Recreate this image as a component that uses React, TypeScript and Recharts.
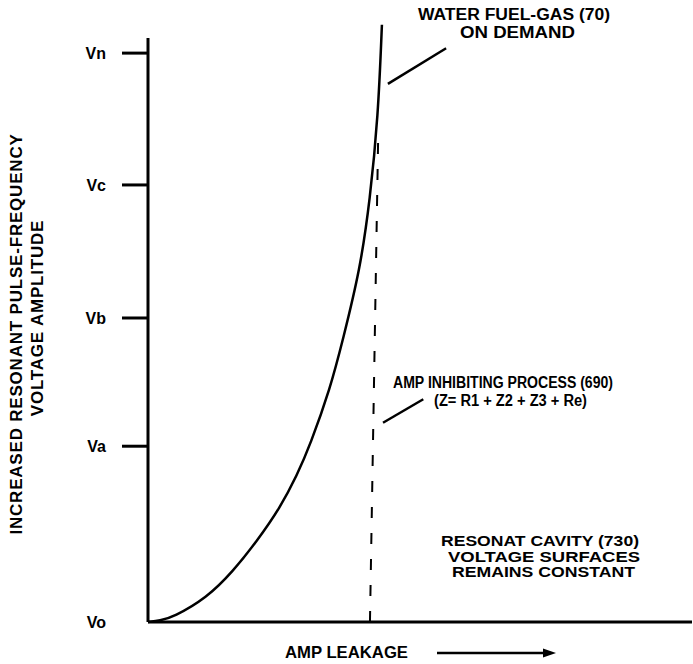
import { ComposedChart, Line, XAxis, YAxis, ReferenceLine } from 'recharts';

// curve (x = amp leakage, y = voltage amplitude, both 0..100)
const CURVE_X = [0, 2.2, 4.6, 10.8, 15.6, 20.0, 24.3, 27.4, 29.8, 33.5, 35.8, 39.0, 40.8, 42.3, 43.0];
const CURVE_Y = [0, 0.25, 0.8, 4.0, 8.4, 13.4, 19.0, 24.4, 29.4, 38.8, 46.8, 58.6, 70.1, 83.9, 99.2];

const Y_TICKS = [0, 29.2, 50.5, 72.6, 94.5];
const Y_TICK_LABELS = ['Vo', 'Va', 'Vb', 'Vc', 'Vn'];

// dashed limit line and leader lines (data coords)
const DASH_LINE = [{ x: 40.8, y: 0 }, { x: 42.3, y: 80 }];
const WATER_LEADER = [{ x: 44.1, y: 89.4 }, { x: 54.8, y: 95.3 }];
const AMP_LEADER = [{ x: 43.2, y: 33.1 }, { x: 50.6, y: 37.0 }];
const Y_AXIS_TOP = 97;

const data = CURVE_X.map((x, i) => ({ x, y: CURVE_Y[i] }));

const FONT = '"Liberation Sans", Arial, sans-serif';

const VTick = (props: any) => {
  const { x, y, payload } = props;
  const idx = Y_TICKS.indexOf(payload.value);
  const label = Y_TICK_LABELS[idx] ?? '';
  return (
    <g>
      {payload.value !== 0 && (
        <line x1={x + 18} x2={x + 44} y1={y} y2={y} stroke="#000" strokeWidth={3} />
      )}
      <text x={x + 2} y={y} dy="0.36em" textAnchor="end" fontFamily={FONT} fontWeight="bold" fontSize={16} fill="#000">
        {label}
      </text>
    </g>
  );
};

// annotation text, left edge x, stretched to the width it has in the figure
const T = ({ x, y, w, children, size = 16 }: any) => (
  <text
    x={x}
    y={y}
    textLength={w}
    lengthAdjust="spacingAndGlyphs"
    fontFamily={FONT}
    fontWeight="bold"
    fontSize={size}
    fill="#000"
  >
    {children}
  </text>
);

export default function App() {
  return (
    <div style={{ position: 'absolute', left: 0, top: 0, width: 693, height: 664, background: '#fff' }}>
      <ComposedChart width={693} height={664} data={data} margin={{ top: 20, right: 1, left: 0, bottom: 0 }}>
        <XAxis
          dataKey="x"
          type="number"
          domain={[0, 100]}
          tick={false}
          tickLine={false}
          height={42}
          axisLine={{ stroke: '#000', strokeWidth: 3 }}
        />
        <YAxis
          type="number"
          domain={[0, 100]}
          ticks={Y_TICKS}
          width={148}
          tickSize={26}
          tickMargin={18}
          tickLine={false}
          axisLine={false}
          tick={<VTick />}
          interval={0}
        />
        <ReferenceLine
          segment={[{ x: 0, y: 0 }, { x: 0, y: Y_AXIS_TOP }]}
          stroke="#000"
          strokeWidth={3}
          ifOverflow="visible"
        />
        <ReferenceLine segment={DASH_LINE} stroke="#000" strokeWidth={2} strokeDasharray="11 15" ifOverflow="visible" />
        <ReferenceLine segment={WATER_LEADER} stroke="#000" strokeWidth={2.5} ifOverflow="visible" />
        <ReferenceLine segment={AMP_LEADER} stroke="#000" strokeWidth={2.5} ifOverflow="visible" />
        <Line
          dataKey="y"
          type="basis"
          stroke="#000"
          strokeWidth={2.5}
          dot={false}
          activeDot={false}
          isAnimationActive={false}
        />
      </ComposedChart>
      <svg width={693} height={664} style={{ position: 'absolute', left: 0, top: 0, pointerEvents: 'none' }}>
        <T x={418} y={20} w={192}>WATER FUEL-GAS (70)</T>
        <T x={460} y={38} w={115}>ON DEMAND</T>
        <T x={393} y={388} w={220}>AMP INHIBITING PROCESS (690)</T>
        <T x={434} y={406} w={153}>(Z= R1 + Z2 + Z3 + Re)</T>
        <T x={441} y={546} w={198} size={15}>RESONAT CAVITY (730)</T>
        <T x={448} y={561.5} w={192} size={15}>VOLTAGE  SURFACES</T>
        <T x={452} y={577} w={183} size={15}>REMAINS CONSTANT</T>
        <T x={285} y={658} w={123} size={17}>AMP LEAKAGE</T>
        <line x1={437} x2={546} y1={653} y2={653} stroke="#000" strokeWidth={2.5} />
        <polygon points="556,653 543,648.5 543,657.5" fill="#000" />
        <text
          transform="translate(22,334) rotate(-90)"
          textAnchor="middle"
          fontFamily={FONT}
          fontWeight="bold"
          fontSize={17}
          letterSpacing={0.8}
          fill="#000"
        >
          INCREASED  RESONANT PULSE-FREQUENCY
        </text>
        <text
          transform="translate(43,318) rotate(-90)"
          textAnchor="middle"
          fontFamily={FONT}
          fontWeight="bold"
          fontSize={17}
          letterSpacing={0.8}
          fill="#000"
        >
          VOLTAGE AMPLITUDE
        </text>
      </svg>
    </div>
  );
}
